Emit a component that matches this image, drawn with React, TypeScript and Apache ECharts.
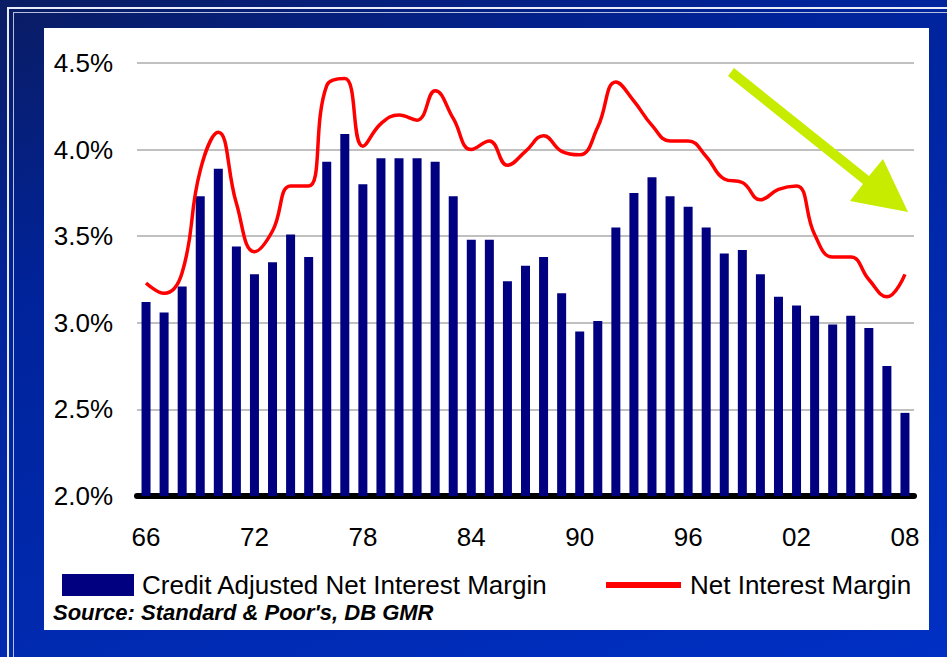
import React, { useEffect, useRef } from "react";
import * as echarts from "echarts";

// Year labels 1966–2008
const years = [
  "66", "67", "68", "69", "70", "71", "72", "73", "74", "75",
  "76", "77", "78", "79", "80", "81", "82", "83", "84", "85",
  "86", "87", "88", "89", "90", "91", "92", "93", "94", "95",
  "96", "97", "98", "99", "00", "01", "02", "03", "04", "05",
  "06", "07", "08",
];

// Credit adjusted net interest margin (%)
const creditAdjustedNim = [
  3.12, 3.06, 3.21, 3.73, 3.89, 3.44, 3.28, 3.35, 3.51, 3.38,
  3.93, 4.09, 3.8, 3.95, 3.95, 3.95, 3.93, 3.73, 3.48, 3.48,
  3.24, 3.33, 3.38, 3.17, 2.95, 3.01, 3.55, 3.75, 3.84, 3.73,
  3.67, 3.55, 3.4, 3.42, 3.28, 3.15, 3.1, 3.04, 2.99, 3.04,
  2.97, 2.75, 2.48,
];

// Net interest margin (%)
const netInterestMargin = [
  3.23, 3.17, 3.29, 3.88, 4.1, 3.69, 3.41, 3.53, 3.79, 3.79,
  4.37, 4.41, 4.02, 4.15, 4.2, 4.17, 4.34, 4.18, 4.0, 4.05,
  3.91, 3.99, 4.08, 3.99, 3.97, 4.13, 4.39, 4.28, 4.14, 4.05,
  4.05, 3.96, 3.83, 3.81, 3.71, 3.77, 3.79, 3.51, 3.38, 3.38,
  3.25, 3.15, 3.28,
];

const yTicks = { min: 2.0, max: 4.5, step: 0.5 };

const barName = "Credit Adjusted Net Interest Margin";
const lineName = "Net Interest Margin";
const sourceText = "Source: Standard & Poor's, DB GMR";

const FONT = "'Liberation Sans', Arial, sans-serif";

export default function App() {
  const ref = useRef<HTMLDivElement>(null);

  useEffect(() => {
    if (!ref.current) return;
    const chart = echarts.init(ref.current, undefined, { renderer: "svg" });
    chart.setOption({
      animation: false,
      backgroundColor: "transparent",
      grid: { left: 137, right: 33, top: 63, bottom: 161 },
      xAxis: {
        type: "category",
        data: years,
        boundaryGap: true,
        axisTick: { show: false },
        axisLine: { lineStyle: { color: "#000", width: 6 } },
        axisLabel: {
          interval: 5,
          margin: 28,
          color: "#000",
          fontSize: 26,
          fontFamily: FONT,
        },
        splitLine: { show: false },
      },
      yAxis: {
        type: "value",
        min: yTicks.min,
        max: yTicks.max,
        interval: yTicks.step,
        axisLine: { show: false },
        axisTick: { show: false },
        axisLabel: {
          margin: 24,
          color: "#000",
          fontSize: 26,
          fontFamily: FONT,
          formatter: (v: number) => v.toFixed(1) + "%",
        },
        splitLine: { lineStyle: { color: "#c0c0c0", width: 2 } },
      },
      legend: [
        {
          data: [{ name: barName, icon: "rect" }],
          left: 62,
          top: 572,
          padding: 0,
          itemWidth: 72,
          itemHeight: 22,
          textStyle: { color: "#000", fontSize: 26, fontFamily: FONT, padding: [0, 0, 0, 3] },
        },
        {
          data: [{ name: lineName, icon: "rect" }],
          left: 606,
          top: 572,
          padding: 0,
          itemWidth: 75,
          itemHeight: 6,
          textStyle: { color: "#000", fontSize: 26, fontFamily: FONT, padding: [0, 0, 0, 4] },
        },
      ],
      graphic: [
        {
          type: "text",
          left: 53,
          top: 601,
          style: {
            text: sourceText,
            fill: "#000",
            font: `italic bold 22px ${FONT}`,
          },
        },
        {
          // trend arrow
          type: "polygon",
          shape: {
            points: [
              [734, 68],
              [869, 176],
              [883, 159],
              [908, 212],
              [850, 201],
              [863, 184],
              [728, 76],
            ],
          },
          style: { fill: "#c8ec00" },
          z: 100,
        },
      ],
      series: [
        {
          name: barName,
          type: "bar",
          data: creditAdjustedNim,
          barWidth: 9,
          itemStyle: { color: "#000080" },
        },
        {
          name: lineName,
          type: "line",
          data: netInterestMargin,
          smooth: 0.45,
          showSymbol: false,
          symbol: "none",
          lineStyle: { color: "#ff0000", width: 3.5 },
          itemStyle: { color: "#ff0000" },
          z: 5,
        },
      ],
    });
    return () => chart.dispose();
  }, []);

  return (
    <div
      style={{
        position: "fixed",
        left: 0,
        top: 0,
        width: 947,
        height: 657,
        overflow: "hidden",
        background: "linear-gradient(160deg, #0a1c62 0%, #00239a 30%, #0030c4 100%)",
      }}
    >
      {/* thin light frame lines */}
      <div style={{ position: "absolute", left: 8, top: 7, right: 0, height: 2, background: "#e8ecf8" }} />
      <div style={{ position: "absolute", left: 13, top: 12, right: 0, height: 1, background: "#b8c0e0" }} />
      <div style={{ position: "absolute", left: 7, top: 7, bottom: 0, width: 2, background: "#e8ecf8" }} />
      <div style={{ position: "absolute", left: 13, top: 12, bottom: 0, width: 1, background: "#b8c0e0" }} />
      {/* white chart panel */}
      <div
        style={{
          position: "absolute",
          left: 44,
          top: 28,
          width: 885,
          height: 602,
          background: "#ffffff",
        }}
      />
      <div ref={ref} style={{ position: "absolute", left: 0, top: 0, width: 947, height: 657 }} />
    </div>
  );
}
